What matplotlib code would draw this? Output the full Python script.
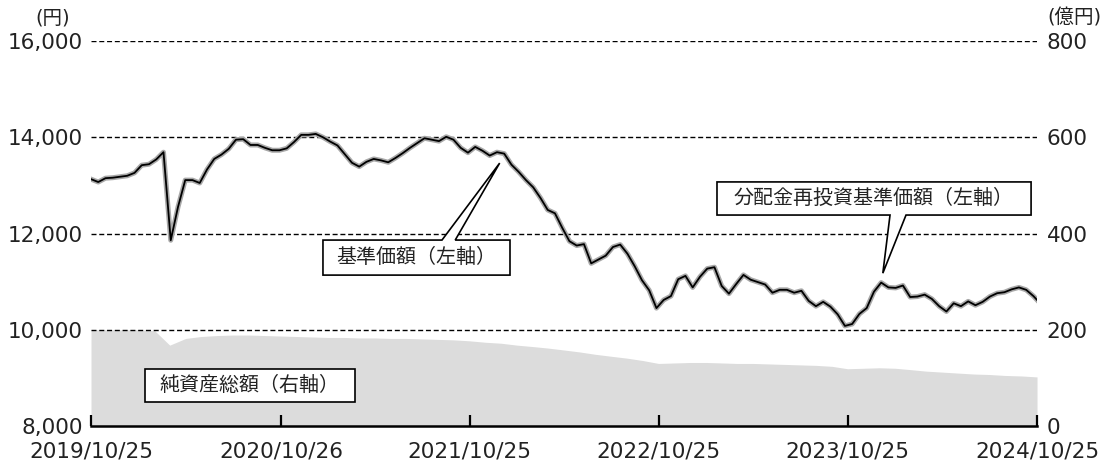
import pandas as pd
import matplotlib.pyplot as plt
from matplotlib.patches import Polygon

plt.rcParams['font.family'] = ['DejaVu Sans', 'Noto Sans CJK JP']
JP = ['Noto Sans CJK JP', 'DejaVu Sans']

# 基準価額（円）: 2週ごと
nav_dates = list(pd.date_range('2019-10-25', '2024-10-25', freq='14D')) + [pd.Timestamp('2024-10-25')]
nav = [13130, 13070, 13150, 13160, 13180, 13200, 13260, 13420, 13440, 13540,
       13690, 11860, 12550, 13110, 13110, 13050, 13330, 13550, 13640, 13760,
       13950, 13960, 13840, 13840, 13780, 13730, 13730, 13770, 13900, 14050,
       14050, 14070, 14000, 13910, 13830, 13650, 13470, 13390, 13490, 13550,
       13520, 13480, 13570, 13670, 13780, 13880, 13980, 13950, 13920, 14010,
       13950, 13780, 13680, 13800, 13720, 13620, 13690, 13660, 13430, 13280,
       13110, 12960, 12740, 12490, 12420, 12120, 11840, 11750, 11780, 11380,
       11460, 11540, 11720, 11770, 11580, 11320, 11030, 10820, 10450, 10620,
       10700, 11050, 11120, 10880, 11100, 11270, 11300, 10910, 10750, 10950,
       11140, 11040, 10990, 10940, 10770, 10830, 10830, 10770, 10810, 10600,
       10490, 10580, 10480, 10320, 10080, 10120, 10330, 10450, 10790, 10980,
       10880, 10870, 10920, 10680, 10690, 10730, 10640, 10490, 10380, 10550,
       10490, 10590, 10510, 10580, 10690, 10760, 10780, 10840, 10880, 10830,
       10700, 10620]
# 分配金再投資基準価額（円）
reinvest = list(nav)

# 純資産総額（億円）: 月次
asset_dates = pd.date_range('2019-10-25', periods=61, freq=pd.DateOffset(months=1))
assets = [200, 200, 200,
          200, 198, 168, 182, 186, 188, 189, 189, 188, 187, 186, 185,
          184, 184, 183, 183, 182, 182, 181, 180, 179, 177, 174, 172,
          168, 165, 162, 158, 154, 149, 145, 141, 136, 130, 131, 132,
          132, 131, 130, 130, 129, 128, 127, 126, 124, 119, 120, 121,
          120, 117, 114, 112, 110, 108, 107, 105, 104, 102]

tick_dates = ['2019-10-25', '2020-10-26', '2021-10-25', '2022-10-25', '2023-10-25', '2024-10-25']
tick_labels = ['2019/10/25', '2020/10/26', '2021/10/25', '2022/10/25', '2023/10/25', '2024/10/25']
left_ticks = [8000, 10000, 12000, 14000, 16000]
right_ticks = [0, 200, 400, 600, 800]

fig = plt.figure(figsize=(11.07, 4.61), dpi=100)
ax2 = fig.add_axes([0.0822, 0.0759, 0.8546, 0.8351])
ax = ax2.twinx()
ax.yaxis.tick_left()
ax2.yaxis.tick_right()
ax.set_zorder(ax2.get_zorder() + 1)
ax.patch.set_visible(False)

# 純資産総額
ax2.fill_between(asset_dates, assets, 0, color='#dcdcdc', linewidth=0)
ax2.set_ylim(0, 800)
ax2.set_yticks(right_ticks)
ax2.set_yticklabels([f'{v:,}' for v in right_ticks])

# 基準価額
ax.plot(nav_dates, reinvest, color='#a8a8a8', lw=3.6, solid_joinstyle='round')
ax.plot(nav_dates, nav, color='black', lw=1.3)
ax.set_ylim(8000, 16000)
ax.set_yticks(left_ticks)
ax.set_yticklabels([f'{v:,}' for v in left_ticks])
for v in left_ticks[1:]:
    ax.axhline(v, color='black', lw=1.0, linestyle=(0, (3.6, 2.0)), zorder=0.5)

xmin, xmax = pd.Timestamp('2019-10-25'), pd.Timestamp('2024-10-25')
ax2.set_xlim(xmin, xmax)
ax2.set_xticks(pd.to_datetime(tick_dates))
ax2.set_xticklabels(tick_labels)

for a in (ax, ax2):
    for s in ('top', 'left', 'right'):
        a.spines[s].set_visible(False)
ax.spines['bottom'].set_visible(False)
ax2.spines['bottom'].set_linewidth(1.8)
ax2.tick_params(axis='x', direction='in', length=8, width=1.6, labelsize=15.5,
                pad=11, labelcolor='#222222')
ax.tick_params(axis='y', length=0, labelsize=15.5, pad=6, labelcolor='#222222')
ax2.tick_params(axis='y', length=0, labelsize=15.5, pad=7, labelcolor='#222222')

# 吹き出し
def callout(points, text, tx, ty):
    poly = Polygon(points, closed=True, transform=ax.transAxes, facecolor='white',
                   edgecolor='black', lw=1.2, zorder=5, clip_on=False)
    ax.add_patch(poly)
    ax.text(tx, ty, text, transform=ax.transAxes, ha='center', va='center',
            fontsize=14.4, family=JP, color='#222222', zorder=6)

callout([(0.2452, 0.392), (0.4429, 0.392), (0.4429, 0.483), (0.385, 0.483),
         (0.432, 0.683), (0.371, 0.483), (0.2452, 0.483)],
        '基準価額（左軸）', 0.344, 0.4375)
callout([(0.6617, 0.548), (0.837 + 0.0076, 0.548), (0.837, 0.397), (0.8615, 0.548),
         (0.9937, 0.548), (0.9937, 0.634), (0.6617, 0.634)],
        '分配金再投資基準価額（左軸）', 0.8277, 0.591)
callout([(0.0571, 0.0623), (0.2788, 0.0623), (0.2788, 0.148), (0.0571, 0.148)],
        '純資産総額（右軸）', 0.168, 0.105)

fig.text(53 / 1107, 1 - 18 / 461, '(円)', ha='center', va='center', fontsize=14, color='#222222')
fig.text(1074 / 1107, 1 - 18 / 461, '(億円)', ha='center', va='center', fontsize=14, color='#222222')

fig.savefig('out.png', dpi=100)
